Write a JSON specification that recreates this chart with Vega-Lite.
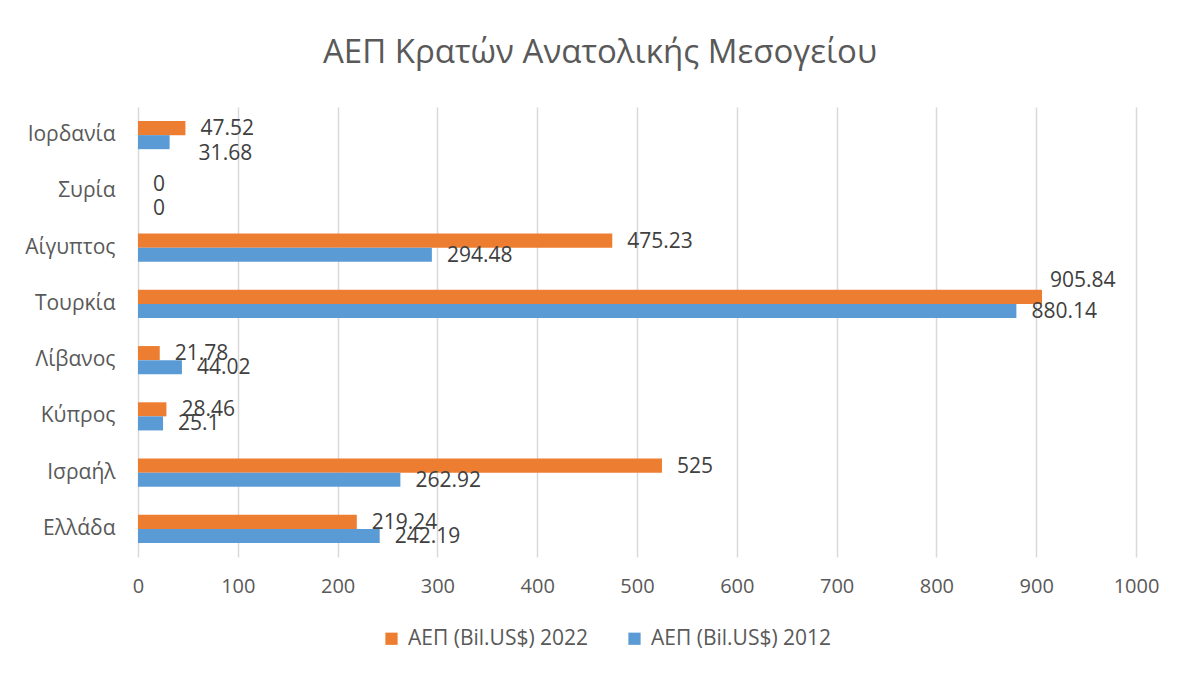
{
  "$schema": "https://vega.github.io/schema/vega-lite/v6.json",
  "width": 998,
  "height": 450,
  "autosize": {"type": "none"},
  "padding": {"left": 138, "top": 107, "right": 54, "bottom": 120},
  "background": "white",
  "title": {
    "text": "ΑΕΠ Κρατών Ανατολικής Μεσογείου",
    "font": "Open Sans",
    "fontSize": 33,
    "fontWeight": "normal",
    "color": "#595959",
    "anchor": "middle",
    "dx": -37,
    "offset": 37
  },
  "data": {
    "values": [
      {"country": "Ελλάδα", "series": "ΑΕΠ (Bil.US$) 2022", "value": 219.24},
      {"country": "Ελλάδα", "series": "ΑΕΠ (Bil.US$) 2012", "value": 242.19},
      {"country": "Ισραήλ", "series": "ΑΕΠ (Bil.US$) 2022", "value": 525},
      {"country": "Ισραήλ", "series": "ΑΕΠ (Bil.US$) 2012", "value": 262.92},
      {"country": "Κύπρος", "series": "ΑΕΠ (Bil.US$) 2022", "value": 28.46},
      {"country": "Κύπρος", "series": "ΑΕΠ (Bil.US$) 2012", "value": 25.1},
      {"country": "Λίβανος", "series": "ΑΕΠ (Bil.US$) 2022", "value": 21.78},
      {"country": "Λίβανος", "series": "ΑΕΠ (Bil.US$) 2012", "value": 44.02},
      {"country": "Τουρκία", "series": "ΑΕΠ (Bil.US$) 2022", "value": 905.84},
      {"country": "Τουρκία", "series": "ΑΕΠ (Bil.US$) 2012", "value": 880.14},
      {"country": "Αίγυπτος", "series": "ΑΕΠ (Bil.US$) 2022", "value": 475.23},
      {"country": "Αίγυπτος", "series": "ΑΕΠ (Bil.US$) 2012", "value": 294.48},
      {"country": "Συρία", "series": "ΑΕΠ (Bil.US$) 2022", "value": 0},
      {"country": "Συρία", "series": "ΑΕΠ (Bil.US$) 2012", "value": 0},
      {"country": "Ιορδανία", "series": "ΑΕΠ (Bil.US$) 2022", "value": 47.52},
      {"country": "Ιορδανία", "series": "ΑΕΠ (Bil.US$) 2012", "value": 31.68}
    ]
  },
  "encoding": {
    "y": {
      "field": "country",
      "type": "nominal",
      "sort": ["Ιορδανία", "Συρία", "Αίγυπτος", "Τουρκία", "Λίβανος", "Κύπρος", "Ισραήλ", "Ελλάδα"],
      "scale": {"paddingInner": 0.5, "paddingOuter": 0.25},
      "axis": {
        "title": null,
        "domain": false,
        "ticks": false,
        "labelFont": "Open Sans",
        "labelFontSize": 21,
        "labelColor": "#595959",
        "labelPadding": 23
      }
    },
    "yOffset": {
      "field": "series",
      "type": "nominal",
      "sort": ["ΑΕΠ (Bil.US$) 2022", "ΑΕΠ (Bil.US$) 2012"],
      "scale": {"paddingInner": 0, "paddingOuter": 0}
    },
    "x": {
      "field": "value",
      "type": "quantitative",
      "scale": {"domain": [0, 1000], "nice": false},
      "axis": {
        "title": null,
        "values": [0, 100, 200, 300, 400, 500, 600, 700, 800, 900, 1000],
        "format": "d",
        "domain": false,
        "ticks": false,
        "grid": true,
        "gridColor": "#D9D9D9",
        "gridWidth": 1.5,
        "labelFont": "Open Sans",
        "labelFontSize": 20,
        "labelColor": "#595959",
        "labelPadding": 19,
        "labelFlush": false
      }
    }
  },
  "layer": [
    {
      "mark": {"type": "bar"},
      "encoding": {
        "color": {
          "field": "series",
          "type": "nominal",
          "scale": {
            "domain": ["ΑΕΠ (Bil.US$) 2022", "ΑΕΠ (Bil.US$) 2012"],
            "range": ["#ED7D31", "#5B9BD5"]
          },
          "legend": {
            "title": null,
            "orient": "none",
            "direction": "horizontal",
            "legendX": 243,
            "legendY": 521,
            "symbolType": "square",
            "symbolSize": 150,
            "symbolStrokeWidth": 0,
            "labelFont": "Open Sans",
            "labelFontSize": 21,
            "labelColor": "#595959",
            "labelOffset": 6,
            "labelLimit": 400,
            "columnPadding": 35
          }
        }
      }
    },
    {
      "transform": [
        {"filter": "!((datum.country === 'Ιορδανία' || datum.country === 'Συρία') && datum.series === 'ΑΕΠ (Bil.US$) 2012') && !(datum.country === 'Τουρκία' && datum.series === 'ΑΕΠ (Bil.US$) 2022')"}
      ],
      "mark": {
        "type": "text",
        "align": "left",
        "baseline": "middle",
        "dx": 15,
        "dy": 1,
        "font": "Open Sans",
        "fontSize": 21,
        "color": "#404040"
      },
      "encoding": {
        "text": {"field": "value", "type": "quantitative"}
      }
    },
    {
      "transform": [
        {"filter": "datum.country === 'Ιορδανία' && datum.series === 'ΑΕΠ (Bil.US$) 2012'"}
      ],
      "mark": {
        "type": "text",
        "align": "left",
        "baseline": "middle",
        "dx": 29,
        "dy": 12,
        "font": "Open Sans",
        "fontSize": 21,
        "color": "#404040"
      },
      "encoding": {
        "text": {"field": "value", "type": "quantitative"}
      }
    },
    {
      "transform": [
        {"filter": "datum.country === 'Συρία' && datum.series === 'ΑΕΠ (Bil.US$) 2012'"}
      ],
      "mark": {
        "type": "text",
        "align": "left",
        "baseline": "middle",
        "dx": 15,
        "dy": 11,
        "font": "Open Sans",
        "fontSize": 21,
        "color": "#404040"
      },
      "encoding": {
        "text": {"field": "value", "type": "quantitative"}
      }
    },
    {
      "transform": [
        {"filter": "datum.country === 'Τουρκία' && datum.series === 'ΑΕΠ (Bil.US$) 2022'"}
      ],
      "mark": {
        "type": "text",
        "align": "left",
        "baseline": "middle",
        "dx": 8,
        "dy": -16,
        "font": "Open Sans",
        "fontSize": 21,
        "color": "#404040"
      },
      "encoding": {
        "text": {"field": "value", "type": "quantitative"}
      }
    }
  ],
  "config": {
    "view": {"stroke": null}
  }
}
